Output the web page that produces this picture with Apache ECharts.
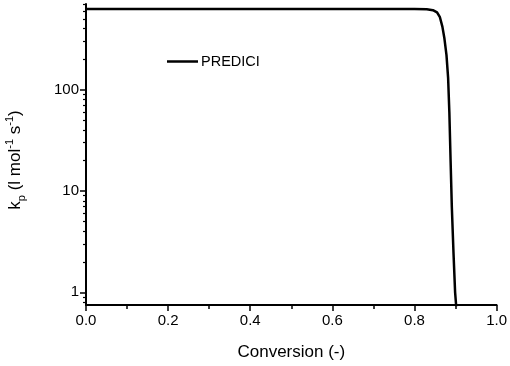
<!DOCTYPE html>
<html><head><meta charset="utf-8">
<script src="https://cdn.jsdelivr.net/npm/echarts@6/dist/echarts.min.js"></script>
<style>html,body{margin:0;padding:0;background:#fff}#c{width:510px;height:366px}</style>
</head><body><div id="c"></div>
<script>
const conversion = [0, 0.2, 0.4, 0.6, 0.8, 0.83, 0.845, 0.855, 0.862, 0.868, 0.873, 0.878, 0.882, 0.885, 0.888, 0.891, 0.895, 0.899, 0.902];
const kp = [627, 627, 627, 627, 626, 622, 610, 580, 520, 420, 320, 220, 130, 60, 20, 7, 2.5, 1, 0.7];
const seriesName = 'PREDICI';
const xTicks = [0, 0.2, 0.4, 0.6, 0.8, 1.0];
const yMinorTicks = [0.8, 0.9, 2, 3, 4, 5, 6, 7, 8, 9, 20, 30, 40, 50, 60, 70, 80, 90, 200, 300, 400, 500, 600, 700];

const chart = echarts.init(document.getElementById('c'));
const font = 'Liberation Sans, Arial, sans-serif';
const yMin = 0.75, yMax = 702;
chart.setOption({
  animation: false,
  grid: {left: 86, right: 13, top: 4, bottom: 60, containLabel: false},
  legend: {
    data: [{name: seriesName, icon: 'rect'}], left: 162, top: 49, itemWidth: 31, itemHeight: 2.5, itemGap: 4,
    textStyle: {fontFamily: font, fontSize: 14.5, color: '#000', padding: [0, 0, 0, -2]}
  },
  xAxis: {
    type: 'value', min: 0, max: 1, interval: 0.2,
    name: 'Conversion (-)', nameLocation: 'middle', nameGap: 39,
    nameTextStyle: {fontFamily: font, fontSize: 17, color: '#000'},
    axisLine: {lineStyle: {color: '#000', width: 2}},
    axisTick: {inside: false, length: 6, lineStyle: {color: '#000', width: 1.5}},
    minorTick: {show: true, splitNumber: 2, length: 4, lineStyle: {color: '#000', width: 1.5}},
    splitLine: {show: false},
    axisLabel: {fontFamily: font, fontSize: 15, color: '#000', margin: 8,
      formatter: v => xTicks.some(t => Math.abs(t - v) < 1e-9) ? v.toFixed(1) : ''}
  },
  yAxis: [{
    type: 'log', logBase: 10, min: yMin, max: yMax,
    axisLine: {lineStyle: {color: '#000', width: 2}},
    axisTick: {inside: false, length: 6, lineStyle: {color: '#000', width: 1.5}},
    splitLine: {show: false},
    axisLabel: {fontFamily: font, fontSize: 15, color: '#000', margin: 7, showMinLabel: false, showMaxLabel: false,
      formatter: v => { const l = Math.log10(v); return Math.abs(l - Math.round(l)) < 1e-6 ? String(Math.round(v)) : ''; }}
  }, {
    type: 'log', logBase: 10, min: yMin, max: yMax, position: 'left', offset: 0,
    axisLine: {show: false},
    axisTick: {show: true, inside: false, length: 3, lineStyle: {color: '#000', width: 1.2}, customValues: yMinorTicks},
    axisLabel: {show: false},
    splitLine: {show: false}
  }],
  graphic: [{
    type: 'text', x: 15, y: 160, rotation: Math.PI / 2,
    style: {
      text: '{n|k}{s|p}{n| (l mol}{u|-1}{n| s}{u|-1}{n|)}',
      align: 'center', verticalAlign: 'middle',
      rich: {
        n: {fontFamily: font, fontSize: 17, fill: '#000', lineHeight: 22, verticalAlign: 'middle'},
        s: {fontFamily: font, fontSize: 11, fill: '#000', lineHeight: 22, verticalAlign: 'bottom', padding: [0, 0, -1, 0]},
        u: {fontFamily: font, fontSize: 11, fill: '#000', lineHeight: 22, verticalAlign: 'top'}
      }
    }
  }],
  series: [{
    name: seriesName, type: 'line', symbol: 'none', smooth: false,
    lineStyle: {color: '#000', width: 2.5}, itemStyle: {color: '#000'},
    data: conversion.map((c, i) => [c, kp[i]])
  }]
});
</script></body></html>
